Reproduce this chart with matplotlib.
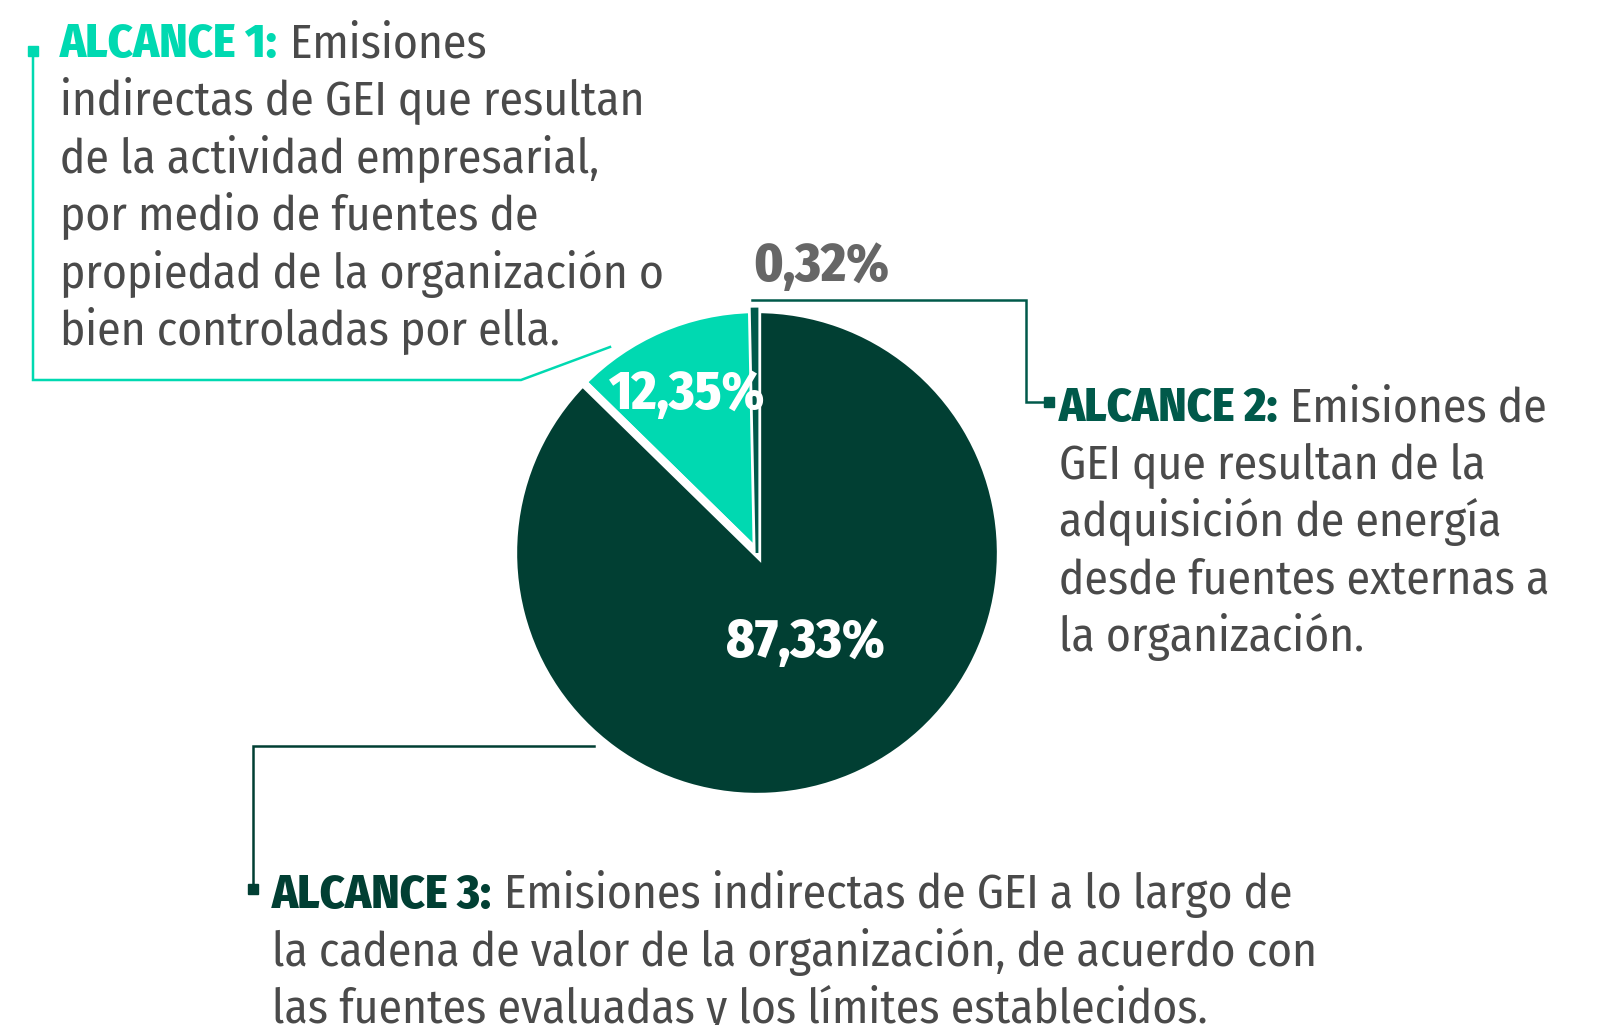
import matplotlib

matplotlib.use("Agg")
import matplotlib.pyplot as plt
from matplotlib import font_manager as fm

W, H = 1610, 1025

# pie data: Alcance 2 (sliver), Alcance 1, Alcance 3
shares = [0.32, 12.35, 87.33]
share_labels = ["0,32%", "12,35%", "87,33%"]
slice_colors = ["#00594a", "#00d9b1", "#013f33"]

scope1_head = "ALCANCE 1:"
scope1_lines = [
    "Emisiones",
    "indirectas de GEI que resultan",
    "de la actividad empresarial,",
    "por medio de fuentes de",
    "propiedad de la organización o",
    "bien controladas por ella.",
]
scope2_head = "ALCANCE 2:"
scope2_lines = [
    "Emisiones de",
    "GEI que resultan de la",
    "adquisición de energía",
    "desde fuentes externas a",
    "la organización.",
]
scope3_head = "ALCANCE 3:"
scope3_lines = [
    "Emisiones indirectas de GEI a lo largo de",
    "la cadena de valor de la organización, de acuerdo con",
    "las fuentes evaluadas y los límites establecidos.",
]

TEAL = "#00d9b1"
DARK2 = "#00594a"
DARK3 = "#013f33"
BODY = "#4a4a4a"
GREY = "#666666"


def pick_font():
    entries = fm.fontManager.ttflist
    names = {f.name for f in entries}
    for fam in ["Fira Sans Condensed", "Roboto Condensed", "Open Sans Condensed",
                "Liberation Sans Narrow", "Noto Sans Condensed", "DejaVu Sans Condensed"]:
        if fam in names:
            return fam, "normal"
    for fam in ["Noto Sans", "Open Sans", "DejaVu Sans"]:
        if any(f.name == fam and "condensed" in str(f.stretch) for f in entries):
            return fam, "condensed"
    return "Roboto", "normal"


FAMILY, STRETCH = pick_font()

fig = plt.figure(figsize=(W / 100, H / 100), dpi=100)
ax = fig.add_axes([0, 0, 1, 1])
renderer = fig.canvas.get_renderer()


def fit_size(text, target_px, weight):
    t = fig.text(0, 0, text, fontsize=20, family=FAMILY, fontstretch=STRETCH, fontweight=weight)
    w = t.get_window_extent(renderer).width
    t.remove()
    return 20 * target_px / w


BODY_SIZE = min(fit_size("indirectas de GEI que resultan", 585, "normal"), 37)
HEAD_SIZE = min(fit_size("ALCANCE 1:", 218, "heavy"), 37)
PCT_SIZE = min(fit_size("87,33%", 159, "heavy"), 42)
LEAD = 57.5

cx, cy, r = 757, 553, 244
wedges, _ = ax.pie(
    shares,
    colors=slice_colors,
    startangle=-90,
    counterclock=False,
    explode=[0.0, 0.03, 0.0],
    radius=r,
    center=(cx, cy),
    wedgeprops=dict(edgecolor="white", linewidth=6),
)
# keep the thin 0,32% slice visible on top of the white separators
wedges[0].set_zorder(3)
wedges[0].set_edgecolor(slice_colors[0])
wedges[0].set_linewidth(2)

ax.set_xlim(0, W)
ax.set_ylim(H, 0)
ax.set_aspect("equal")
ax.axis("off")

txt = dict(family=FAMILY, fontstretch=STRETCH, va="baseline", zorder=5)

# percentage labels
ax.text(753, 281, share_labels[0], color=GREY, fontsize=PCT_SIZE, fontweight="heavy", **txt)
ax.text(609, 409, share_labels[1], color="white", fontsize=PCT_SIZE, fontweight="heavy", **txt)
ax.text(726, 657, share_labels[2], color="white", fontsize=PCT_SIZE, fontweight="heavy", **txt)


def block(x, y0, head, head_color, lines):
    h = ax.text(x, y0, head, color=head_color, fontsize=HEAD_SIZE, fontweight="heavy", **txt)
    hw = h.get_window_extent(renderer).width
    ax.text(x + hw + 12, y0, lines[0], color=BODY, fontsize=BODY_SIZE, **txt)
    for i, line in enumerate(lines[1:], 1):
        ax.text(x, y0 + i * LEAD, line, color=BODY, fontsize=BODY_SIZE, **txt)


block(60, 57.5, scope1_head, TEAL, scope1_lines)
block(1059, 421, scope2_head, DARK2, scope2_lines)
block(272, 908, scope3_head, DARK3, scope3_lines)

# leader lines
lw = 1.8
ax.plot([610, 521, 33, 33], [347, 380, 380, 51], color=TEAL, lw=lw, solid_joinstyle="miter")
ax.plot([33], [51], marker="s", ms=6.5, color=TEAL)
ax.plot([752, 1026, 1026, 1049], [300, 300, 402, 402], color=DARK2, lw=lw, solid_joinstyle="miter")
ax.plot([1049], [402], marker="s", ms=6.5, color=DARK2)
ax.plot([594, 253, 253], [746, 746, 889], color=DARK3, lw=lw, solid_joinstyle="miter")
ax.plot([253], [889], marker="s", ms=6.5, color=DARK3)

fig.savefig("out.png", dpi=100, facecolor="white")
